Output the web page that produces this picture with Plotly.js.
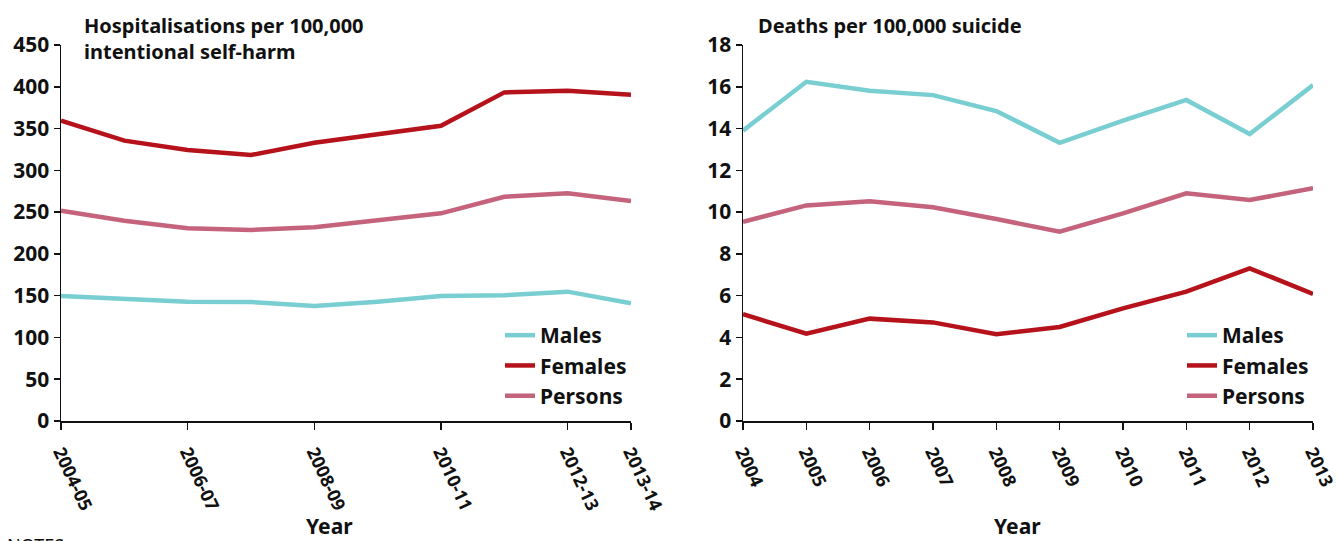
<!DOCTYPE html>
<html>
<head>
<meta charset="utf-8">
<script src="https://cdn.plot.ly/plotly-3.0.1.min.js"></script>
<style>html,body{margin:0;padding:0;background:#fff;}#chart{width:1337px;height:541px;}</style>
</head>
<body>
<div id="chart"></div>
<script>
// Left chart: hospitalisations per 100,000 (intentional self-harm)
const hospYears = ['2004-05','2005-06','2006-07','2007-08','2008-09','2009-10','2010-11','2011-12','2012-13','2013-14'];
const hospTickLabels = ['2004-05','2006-07','2008-09','2010-11','2012-13','2013-14'];
const hospMales   = [149.6, 146.5, 142.8, 142.4, 137.6, 142.8, 149.6, 150.4, 154.8, 140.8];
const hospFemales = [359.4, 335.5, 324.3, 318.3, 333.0, 343.0, 353.4, 393.3, 395.3, 390.5];
const hospPersons = [251.7, 239.7, 230.6, 228.6, 231.8, 239.7, 248.5, 268.4, 272.5, 263.3];

// Right chart: deaths per 100,000 (suicide)
const deathYears = ['2004','2005','2006','2007','2008','2009','2010','2011','2012','2013'];
const deathMales   = [13.90, 16.24, 15.81, 15.60, 14.84, 13.32, 14.38, 15.37, 13.74, 16.08];
const deathFemales = [5.11, 4.18, 4.90, 4.72, 4.15, 4.50, 5.39, 6.19, 7.31, 6.08];
const deathPersons = [9.54, 10.32, 10.52, 10.23, 9.67, 9.06, 9.94, 10.90, 10.58, 11.14];

const seriesNames = ['Males','Females','Persons'];
const seriesColors = ['#79CED1','#B5121B','#C5637D'];

const W = 1337, H = 541;
const FONT = 'Noto Sans, Roboto, sans-serif';
const px = v => v / W;
const py = v => 1 - v / H;

const hospSeries = [hospMales, hospFemales, hospPersons];
const deathSeries = [deathMales, deathFemales, deathPersons];

const traces = [];
seriesNames.forEach((n, i) => {
  traces.push({
    x: hospYears, y: hospSeries[i], type: 'scatter', mode: 'lines', name: n,
    line: {color: seriesColors[i], width: 4.5},
    xaxis: 'x', yaxis: 'y', legend: 'legend'
  });
});
seriesNames.forEach((n, i) => {
  traces.push({
    x: deathYears, y: deathSeries[i], type: 'scatter', mode: 'lines', name: n,
    line: {color: seriesColors[i], width: 4.5},
    xaxis: 'x2', yaxis: 'y2', legend: 'legend2'
  });
});

const bold = (size) => ({family: FONT, size: size, color: '#111', weight: 'bold', stretch: 'condensed'});
const baseX = {
  type: 'category', showgrid: false, zeroline: false, showline: true,
  linecolor: '#111', linewidth: 1.5, ticks: 'outside', ticklen: 7, tickwidth: 1.5,
  tickcolor: '#111', tickangle: 65, tickfont: bold(18), ticklabelstandoff: 5, fixedrange: true
};
const baseY = {
  showgrid: false, zeroline: false, showline: true, linecolor: '#111', linewidth: 1.5,
  ticks: 'outside', ticklen: 6, tickwidth: 1.5, tickcolor: '#111', tickfont: bold(21),
  fixedrange: true
};
const legendBase = {
  font: bold(21),
  bgcolor: 'rgba(0,0,0,0)', xanchor: 'left', yanchor: 'top',
  itemwidth: 30, tracegroupgap: 0
};
const yDom = [py(421), py(45)];

const layout = {
  width: W, height: H,
  margin: {l: 0, r: 0, t: 0, b: 0},
  paper_bgcolor: '#fff', plot_bgcolor: '#fff',
  showlegend: true,
  xaxis: Object.assign({}, baseX, {
    domain: [px(61), px(631)], range: [0, 9], anchor: 'y',
    tickmode: 'array', tickvals: hospTickLabels, ticktext: hospTickLabels
  }),
  yaxis: Object.assign({}, baseY, {
    domain: yDom, range: [0, 450], tickmode: 'linear', tick0: 0, dtick: 50, anchor: 'x'
  }),
  xaxis2: Object.assign({}, baseX, {
    domain: [px(743), px(1313)], range: [0, 9], anchor: 'y2',
    tickmode: 'array', tickvals: deathYears, ticktext: deathYears
  }),
  yaxis2: Object.assign({}, baseY, {
    domain: yDom, range: [0, 18], tickmode: 'linear', tick0: 0, dtick: 2, anchor: 'x2'
  }),
  legend: Object.assign({}, legendBase, {x: px(500), y: py(315)}),
  legend2: Object.assign({}, legendBase, {x: px(1182), y: py(315)}),
  annotations: [
    {text: 'Hospitalisations per 100,000<br>intentional self-harm', xref: 'paper', yref: 'paper',
     x: px(82), y: py(10), xanchor: 'left', yanchor: 'top', align: 'left', showarrow: false,
     font: bold(20)},
    {text: 'Deaths per 100,000 suicide', xref: 'paper', yref: 'paper',
     x: px(756), y: py(10), xanchor: 'left', yanchor: 'top', align: 'left', showarrow: false,
     font: bold(20)},
    {text: 'Year', xref: 'paper', yref: 'paper', x: px(329), y: py(526), xanchor: 'center', yanchor: 'middle',
     showarrow: false, font: bold(21)},
    {text: 'Year', xref: 'paper', yref: 'paper', x: px(1017), y: py(526), xanchor: 'center', yanchor: 'middle',
     showarrow: false, font: bold(21)},
    {text: 'NOTES', xref: 'paper', yref: 'paper', x: px(5), y: py(531), xanchor: 'left', yanchor: 'top',
     showarrow: false, font: {family: FONT, size: 18, color: '#111', stretch: 'condensed'}}
  ]
};

Plotly.newPlot('chart', traces, layout, {displayModeBar: false, staticPlot: true});
</script>
</body>
</html>
